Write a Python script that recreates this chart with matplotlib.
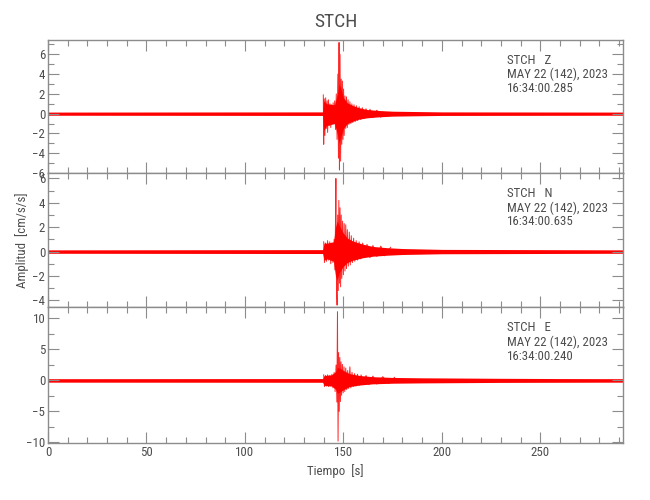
import matplotlib
matplotlib.use("Agg")
import matplotlib.pyplot as plt
from matplotlib import font_manager
from matplotlib.ticker import MultipleLocator

# ---------------- data ----------------
station = "STCH"
channels = ["Z", "N", "E"]
start_times = ["16:34:00.285", "16:34:00.635", "16:34:00.240"]
date_label = "MAY 22 (142), 2023"
t_max = 292

# Z channel
z_env_t = [0, 139.5, 140.0, 141.5, 145.5, 147.0, 147.8, 148.6, 150, 152, 155, 158, 162, 168, 175, 185, 200, 292]
z_env_hi = [0.16, 0.18, 1.3, 1.0, 0.9, 2.0, 3.0, 2.6, 1.6, 1.1, 0.8, 0.6, 0.42, 0.32, 0.25, 0.22, 0.18, 0.16]
z_env_lo = [-0.16, -0.18, -1.7, -1.2, -1.0, -2.1, -3.0, -2.4, -1.5, -1.0, -0.75, -0.55, -0.42, -0.32, -0.25, -0.22, -0.18, -0.16]
z_pk_t = [139.8, 140.0, 140.3, 140.6, 141.0, 141.3, 141.7, 142.0, 142.4, 142.8, 143.2, 143.6, 144.0, 144.4,
          144.8, 145.2, 145.6, 146.0, 146.4, 146.8, 147.2, 147.5, 147.8, 148.0, 148.3, 148.6, 148.9, 149.2,
          149.5, 149.8, 150.1, 150.4, 150.8, 151.2, 151.6, 152.0, 152.4, 152.8, 153.3, 153.8, 154.3, 154.8,
          155.4, 156.0, 156.6, 157.3, 158.0, 158.8, 159.6, 160.5, 161.5, 162.5, 163.5, 165.0, 167.0, 169.0]
z_pk_v = [1.9, -3.1, 1.5, -2.2, 1.6, -1.5, 1.3, -1.9, 1.4, -1.2, 1.0, -1.4, 0.9, -1.0,
          1.1, -0.9, 1.3, -1.6, 2.0, -2.6, 4.0, -4.5, 7.2, -5.7, 6.0, -4.8, 3.5, -3.1,
          3.3, -2.6, 2.5, -2.2, 1.8, -1.5, 1.7, -1.4, 1.4, -1.1, 1.2, -1.0, 1.0, -0.9,
          0.9, -0.8, 0.8, -0.7, 0.7, -0.6, 0.6, -0.5, 0.5, -0.4, 0.45, -0.4, 0.35, -0.35]

# N channel
n_env_t = [0, 139.5, 140.2, 142, 145, 146.0, 146.8, 148, 150, 152, 155, 160, 165, 172, 180, 200, 292]
n_env_hi = [0.14, 0.16, 0.7, 0.7, 0.8, 2.0, 2.5, 2.1, 1.5, 1.1, 0.85, 0.6, 0.42, 0.32, 0.25, 0.18, 0.14]
n_env_lo = [-0.14, -0.16, -0.7, -0.6, -0.8, -2.0, -2.3, -1.7, -1.2, -0.9, -0.7, -0.5, -0.38, -0.3, -0.24, -0.18, -0.14]
n_pk_t = [140.0, 140.4, 140.9, 141.4, 142.0, 142.5, 143.1, 143.6, 144.2, 144.7, 145.3, 145.7, 146.0, 146.2,
          146.5, 146.8, 147.1, 147.4, 147.7, 148.0, 148.3, 148.6, 148.9, 149.2, 149.6, 150.0, 150.4, 150.8,
          151.2, 151.6, 152.0, 152.5, 153.0, 153.5, 154.0, 154.6, 155.2, 155.8, 156.5, 157.2, 158.0, 158.8,
          159.8, 161.0, 162.0, 163.5, 165.0, 167.0, 169.0, 171.0, 174.0]
n_pk_v = [0.8, -0.9, 0.7, -0.8, 0.9, -0.7, 0.8, -1.0, 0.7, -0.9, 1.0, -1.5, 2.5, 6.0,
          -2.5, -4.4, 3.0, -3.2, 4.2, -2.6, 3.6, -2.9, 3.0, -2.2, 2.5, -1.9, 2.3, -1.6,
          2.2, -1.4, 1.8, -1.2, 1.6, -1.1, 1.3, -0.9, 1.1, -0.8, 0.9, -0.7, 0.8, -0.6,
          0.7, -0.5, 0.6, -0.5, 0.5, -0.4, 0.45, -0.35, 0.35]

# E channel
e_env_t = [0, 139.5, 140.2, 144, 146.0, 147.0, 148, 150, 153, 158, 165, 175, 190, 210, 230, 260, 292]
e_env_hi = [0.28, 0.3, 0.8, 0.9, 1.4, 2.1, 2.0, 1.6, 1.1, 0.8, 0.6, 0.48, 0.42, 0.38, 0.34, 0.3, 0.28]
e_env_lo = [-0.28, -0.3, -0.8, -0.9, -1.4, -2.1, -1.9, -1.5, -1.0, -0.75, -0.55, -0.45, -0.4, -0.36, -0.32, -0.3, -0.28]
e_pk_t = [140.0, 140.4, 140.9, 141.4, 142.0, 142.5, 143.1, 143.6, 144.2, 144.7, 145.3, 145.8, 146.3, 146.7,
          147.0, 147.3, 147.6, 147.9, 148.2, 148.5, 148.8, 149.1, 149.5, 149.9, 150.3, 150.7, 151.2, 151.7,
          152.2, 152.7, 153.3, 153.8, 154.4, 155.0, 155.7, 156.4, 157.2, 158.0, 159.0, 160.0, 161.5, 163.0,
          165.0, 167.0, 170.0, 173.0, 176.0]
e_pk_v = [0.9, -1.0, 0.8, -0.9, 0.9, -1.0, 0.8, -0.9, 1.0, -1.2, 1.3, -1.8, 2.5, -3.5,
          11.1, -9.8, 4.5, -5.0, 3.7, -3.4, 3.0, -2.4, 2.6, -2.0, 2.2, -1.8, 2.0, -1.5,
          1.6, -1.3, 2.2, -1.2, 1.3, -1.0, 1.1, -0.9, 1.0, -0.8, 0.9, -0.7, 0.8, -0.7,
          0.7, -0.6, 0.6, -0.5, 0.5]

y_limits = [(-6.0, 7.45), (-4.55, 6.45), (-10.1, 11.85)]
y_major = [2, 2, 5]
y_minor = [1, 1, 2.5]

# ---------------- style ----------------
names = {f.name for f in font_manager.fontManager.ttflist}
fam = "DejaVu Sans"
for cand in ["Liberation Sans Narrow", "Roboto Condensed", "Open Sans Condensed", "Liberation Sans"]:
    if cand in names:
        fam = cand
        break
plt.rcParams["font.family"] = [fam, "DejaVu Sans"]
txt_col = "#4d4d4d"
ax_col = "#8c8c8c"
fs = 9.3

fig = plt.figure(figsize=(6.5, 5.0), dpi=100)
left, right = 48 / 650, 623 / 650
bounds_px = [(40, 173), (173, 307), (307, 443)]

envs = [(z_env_t, z_env_hi, z_env_lo), (n_env_t, n_env_hi, n_env_lo), (e_env_t, e_env_hi, e_env_lo)]
pks = [(z_pk_t, z_pk_v), (n_pk_t, n_pk_v), (e_pk_t, e_pk_v)]

axes = []
for i, (top, bot) in enumerate(bounds_px):
    ax = fig.add_axes([left, 1 - bot / 500, right - left, (bot - top) / 500])
    axes.append(ax)
    et, eh, el = envs[i]
    ax.fill_between(et, el, eh, color="red", linewidth=0)
    pt, pv = pks[i]
    ax.plot(pt, pv, color="red", linewidth=0.7, alpha=0.85)
    ax.set_xlim(0, t_max)
    ax.set_ylim(*y_limits[i])
    ax.xaxis.set_major_locator(MultipleLocator(50))
    ax.xaxis.set_minor_locator(MultipleLocator(10))
    ax.yaxis.set_major_locator(MultipleLocator(y_major[i]))
    ax.yaxis.set_minor_locator(MultipleLocator(y_minor[i]))
    ax.tick_params(which="both", direction="in", top=True, right=True,
                   color=ax_col, labelcolor=txt_col, labelsize=fs, pad=2)
    ax.tick_params(which="major", length=8, width=0.8)
    ax.tick_params(which="minor", length=4, width=0.8)
    for s in ax.spines.values():
        s.set_color(ax_col)
        s.set_linewidth(1.0)
    if i < 2:
        ax.tick_params(labelbottom=False)
    ax.text(0.798, 0.895, f"{station}   {channels[i]}", transform=ax.transAxes,
            fontsize=fs, color=txt_col, va="top", ha="left")
    ax.text(0.798, 0.79, date_label, transform=ax.transAxes,
            fontsize=fs, color=txt_col, va="top", ha="left")
    ax.text(0.798, 0.685, start_times[i], transform=ax.transAxes,
            fontsize=fs, color=txt_col, va="top", ha="left")

axes[2].set_xlabel("Tiempo  [s]", fontsize=fs, color=txt_col, labelpad=4)
fig.text(22 / 650, 1 - 240 / 500, "Amplitud  [cm/s/s]", rotation=90, fontsize=fs,
         color=txt_col, ha="center", va="center")
fig.text((48 + 623) / 2 / 650, 1 - 22 / 500, station, fontsize=14, color=txt_col,
         ha="center", va="center")

fig.savefig("out.png", dpi=100)
